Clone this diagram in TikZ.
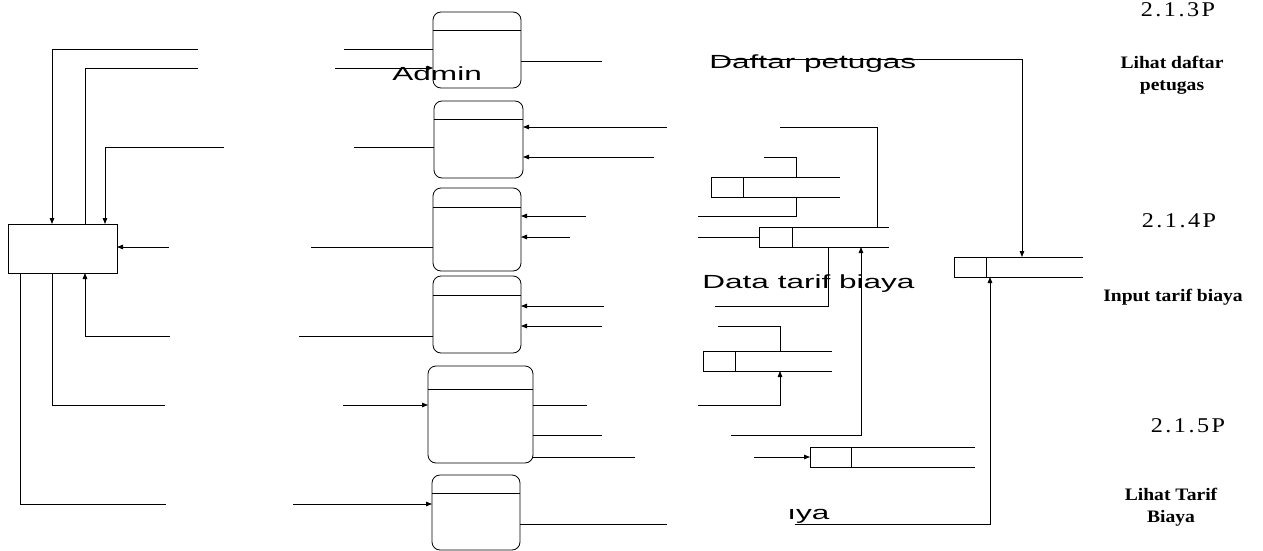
\documentclass[tikz,border=0pt]{standalone}
\usepackage{fontspec}
\setmainfont{Liberation Serif}
\newfontfamily\flowfont[FakeStretch=1.66]{Liberation Sans}
\newfontfamily\numfont[FakeStretch=1.15,LetterSpace=12]{Liberation Serif}
\newfontfamily\namefont[FakeStretch=1.12]{Liberation Serif}
\usetikzlibrary{arrows.meta}

% data store: name, top left corner, width, divider offset
\newcommand{\datastore}[4]{%
  \node[store,minimum width=#3pt] (#1) at (#2) {};
  \draw (#1.north east) -- (#1.north west) -- (#1.south west) -- (#1.south east)
        ([xshift=#4pt]#1.north west) -- ([xshift=#4pt]#1.south west);
}

\begin{document}
\begin{tikzpicture}[x=1pt,y=-1pt,>={Triangle[length=6pt,width=4.5pt]},line width=0.8pt,
  entity/.style={draw,minimum width=109pt,minimum height=49pt,inner sep=0pt,outer sep=0pt},
  proc/.style={draw,rounded corners=8pt,minimum width=88pt,minimum height=77pt,inner sep=0pt,outer sep=0pt,
    path picture={\draw ([yshift=-#1pt]path picture bounding box.north west) -- ([yshift=-#1pt]path picture bounding box.north east);}},
  proc/.default=18,
  store/.style={minimum height=20pt,inner sep=0pt,outer sep=0pt,anchor=north west},
  flowlbl/.style={font=\flowfont\fontsize{19}{22}\selectfont,inner sep=0pt,anchor=base west},
  numlbl/.style={font=\numfont\fontsize{21}{24}\selectfont,inner sep=0pt,anchor=base},
  namelbl/.style={font=\namefont\bfseries\fontsize{17.5}{22}\selectfont,align=center,inner sep=0pt,anchor=base}]

  \useasboundingbox (0,0) rectangle (1263,551);
  \clip (0,0) rectangle (1263,551);

  \node[entity] (ent) at (62.5,248.5) {};

  \node[proc] (p1) [minimum height=76pt] at (477,50) {};
  \node[proc] (p2) [minimum width=89pt] at (478.5,139.5) {};
  \node[proc=19] (p3) [minimum height=83pt] at (477,229.5) {};
  \node[proc=19] (p4) at (477,314.5) {};
  \node[proc=23] (p5) [minimum width=105pt,minimum height=97pt] at (480.5,414.5) {};
  \node[proc] (p6) [minimum height=75pt] at (476,512.5) {};

  \datastore{s1}{711,177}{129}{32}
  \datastore{s2}{759,227}{130}{33}
  \datastore{s3}{703,351}{129}{32}
  \datastore{s4}{810,447}{165}{41}
  \datastore{s5}{954,257}{129}{32}

  % flows between the entity and the processes
  \draw[->] (p1.west |- 0,49) -- (344,49) (198,49) -| (ent.north -| 52,0);
  \draw[->] (ent.north -| 85,0) |- (198,68) (335,68) -- (p1.west |- 0,68);
  \draw[->] (p2.west |- 0,147) -- (354,147) (224,147) -| (ent.north -| 105,0);
  \draw[->] (p3.west |- 0,247) -- (311,247) (169,247) -- (ent.east |- 0,247);
  \draw[->] (p4.west |- 0,336) -- (299,336) (170,336) -| (ent.south -| 85,0);
  \draw[->] (ent.south -| 52,0) |- (165,405) (343,405) -- (p5.west |- 0,405);
  \draw[->] (ent.south -| 20,0) |- (166,504) (293,504) -- (p6.west |- 0,504);

  % flows between the processes and the stores
  \draw[->] (p1.east |- 0,61) -- (602,61) (715,59) -| (s5.north -| 1022,0);
  \draw[->] (s2.north -| 877,0) |- (780,127) (667,127) -- (p2.east |- 0,127);
  \draw[->] (s1.north -| 796,0) |- (764,157) (654,157) -- (p2.east |- 0,157);
  \draw[->] (s1.south -| 796,0) |- (698,216) (586,216) -- (p3.east |- 0,216);
  \draw[->] (s2.west) -- (698,237) (570,237) -- (p3.east |- 0,237);
  \draw[->] (s2.south -| 828,0) |- (715,306) (604,306) -- (p4.east |- 0,306);
  \draw[->] (s3.north -| 780,0) |- (718,326) (602,326) -- (p4.east |- 0,326);
  \draw[->] (p5.east |- 0,405) -- (587,405) (698,405) -| (s3.south -| 780,0);
  \draw[->] (p5.east |- 0,435) -- (602,435) (731,435) -| (s2.south -| 861,0);
  \draw[->] (p5.east |- 0,457) -- (635,457) (754,457) -- (s4.west);
  \draw[->] (p6.east |- 0,524) -- (667,524) (795,524) -| (s5.south -| 990,0);

  \node[flowlbl] (tadmin) at (392,81) {Admin};
  \node[flowlbl] (tdaftar) at (709,68) {Daftar petugas};
  \node[flowlbl] (tdata) at (702,288) {Data tarif biaya};
  \node[flowlbl] (tbiaya) at (787,519) {ıya};

  \node[numlbl] (n213) at (1178,17) {2.1.3P};
  \node[namelbl] (l213) at (1172,90) {Lihat daftar\\petugas};
  \node[numlbl] (n214) at (1179,227) {2.1.4P};
  \node[namelbl] (l214) at (1173,301) {Input tarif biaya};
  \node[numlbl] (n215) at (1188,432) {2.1.5P};
  \node[namelbl] (l215) at (1171,522) {Lihat Tarif\\Biaya};
\end{tikzpicture}
\end{document}
